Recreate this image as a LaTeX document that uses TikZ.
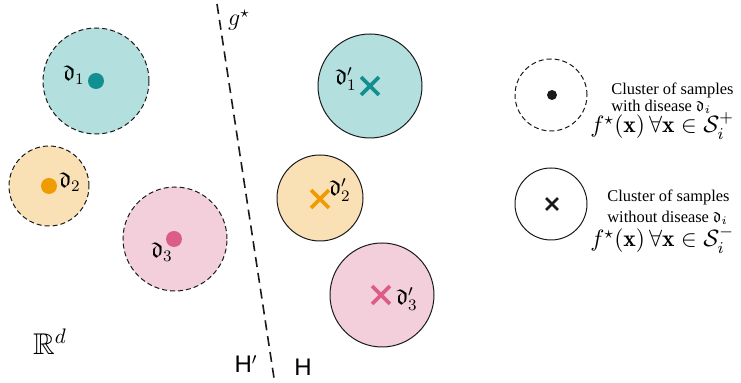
\RequirePackage{fix-cm}
\documentclass[tikz,border=0pt]{standalone}
\usepackage{amsmath,amssymb}
\usepackage{fontspec}
\usetikzlibrary{shapes.misc}
\newfontfamily\sansH{Liberation Sans}
\newfontfamily\serifT{Liberation Serif}
\definecolor{tealfill}{HTML}{B3DFDF}
\definecolor{tealdot}{HTML}{11908F}
\definecolor{orfill}{HTML}{F9E0B5}
\definecolor{ordot}{HTML}{EE9C00}
\definecolor{pkfill}{HTML}{F2CFDB}
\definecolor{pkdot}{HTML}{DC5E87}
\definecolor{ink}{HTML}{1A1A1A}
\tikzset{
  poscirc/.style={circle, draw=ink, line width=0.5pt, dash pattern=on 2.5pt off 1.5pt, inner sep=0pt},
  negcirc/.style={circle, draw=ink, line width=0.5pt, inner sep=0pt},
  dotmark/.style={circle, inner sep=0pt, minimum size=8pt},
  xmark/.style={cross out, draw, line width=1.9pt, inner sep=0pt, minimum size=7pt},
  lab/.style={inner sep=0pt, font=\fontsize{12}{14}\selectfont},
  legtext/.style={inner sep=0pt, align=left, anchor=west, font=\fontsize{8.2}{8.6}\selectfont\serifT},
  legmath/.style={inner sep=0pt, anchor=west, font=\fontsize{11.8}{13}\selectfont},
}
\begin{document}
\begin{tikzpicture}[x=0.5pt,y=-0.5pt]
\useasboundingbox (0,0) rectangle (741,383);
% separator
\coordinate (top) at (217,4);
\coordinate (bot) at (274,378);
\draw[ink, line width=0.8pt, dash pattern=on 5pt off 3pt] (top) -- (bot);
\node[lab] (g) at (239,20) {$g^\star$};
\node[inner sep=0pt, font=\fontsize{12}{14}\selectfont\sansH] (Hp) at (246,364) {H$'$};
\node[inner sep=0pt, font=\fontsize{12}{14}\selectfont\sansH] (H) at (303,367) {H};
\node[inner sep=0pt, font=\fontsize{15}{17}\selectfont] (Rd) at (50,342) {$\mathbb{R}^d$};
% left clusters (with disease)
\node[poscirc, fill=tealfill, minimum size=106pt/2] (c1) at (96,81) {};
\node[dotmark, fill=tealdot] (p1) at (96,81) {};
\node[lab] (l1) at (74,75) {$\mathfrak{d}_1$};
\node[poscirc, fill=orfill, minimum size=80pt/2] (c2) at (49,186) {};
\node[dotmark, fill=ordot] (p2) at (49,186) {};
\node[lab] (l2) at (70,182) {$\mathfrak{d}_2$};
\node[poscirc, fill=pkfill, minimum size=104pt/2] (c3) at (175,239) {};
\node[dotmark, fill=pkdot] (p3) at (174,239) {};
\node[lab] (l3) at (162,252) {$\mathfrak{d}_3$};
% right clusters (without disease)
\node[negcirc, fill=tealfill, minimum size=104pt/2] (n1) at (370,86) {};
\node[xmark, draw=tealdot] (x1) at (370,86) {};
\node[lab] (m1) at (346,79) {$\mathfrak{d}_1'$};
\node[negcirc, fill=orfill, minimum size=86pt/2] (n2) at (320,198) {};
\node[xmark, draw=ordot] (x2) at (320,199) {};
\node[lab] (m2) at (340,190) {$\mathfrak{d}_2'$};
\node[negcirc, fill=pkfill, minimum size=104pt/2] (n3) at (382,295) {};
\node[xmark, draw=pkdot] (x3) at (381,295) {};
\node[lab] (m3) at (407,299) {$\mathfrak{d}_3'$};
% legend
\node[poscirc, minimum size=72pt/2] (lc1) at (551,95) {};
\node[circle, fill=ink, inner sep=0pt, minimum size=5pt] (ld) at (552,95) {};
\node[legtext] (lt1a) at (611,90) {Cluster of samples};
\node[legtext] (lt1b) at (611,107) {with disease $\mathfrak{d}_i$};
\node[legmath] (lm1) at (590,126) {$f^\star(\mathbf{x})\,\forall\mathbf{x}\in\mathcal{S}_i^+$};
\node[negcirc, minimum size=72pt/2] (lc2) at (551,204) {};
\node[cross out, draw=ink, line width=1.4pt, inner sep=0pt, minimum size=4.5pt] (lx) at (552,204) {};
\node[legtext] (lt2a) at (607,197) {Cluster of samples};
\node[legtext] (lt2b) at (607,218) {without disease $\mathfrak{d}_i$};
\node[legmath] (lm2) at (590,240) {$f^\star(\mathbf{x})\,\forall\mathbf{x}\in\mathcal{S}_i^-$};
\end{tikzpicture}
\end{document}
